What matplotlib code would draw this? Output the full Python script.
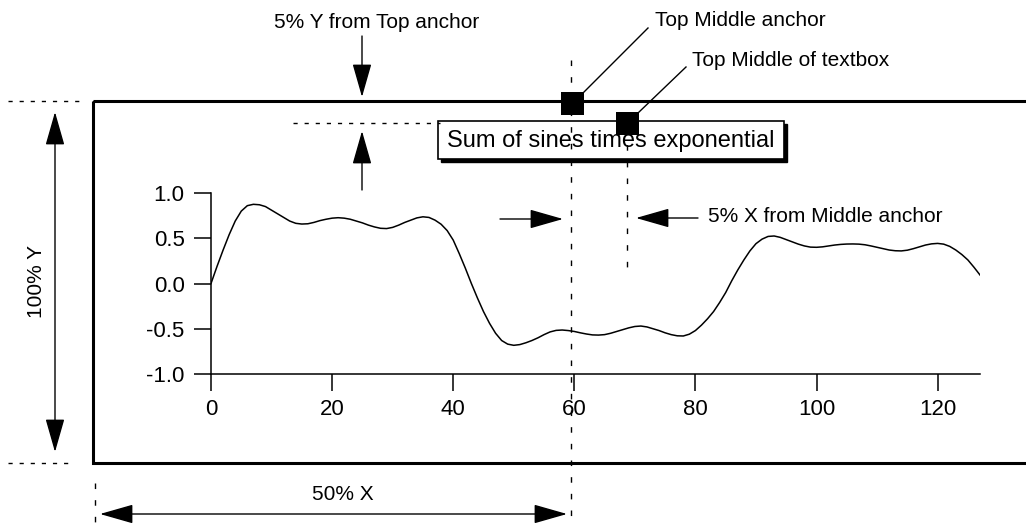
import matplotlib
matplotlib.use("Agg")
import matplotlib.pyplot as plt
from matplotlib.patches import Rectangle

plt.rcParams['font.family'] = ['Liberation Sans', 'DejaVu Sans']
plt.rcParams['axes.unicode_minus'] = False

# curve values, one per x step (0..127)
y_vals = [0.0, 0.19, 0.37, 0.54, 0.69, 0.80, 0.86, 0.875, 0.87, 0.85,
          0.81, 0.77, 0.73, 0.69, 0.665, 0.657, 0.66, 0.675, 0.695, 0.71,
          0.722, 0.727, 0.722, 0.71, 0.69, 0.67, 0.645, 0.625, 0.61, 0.607,
          0.62, 0.645, 0.675, 0.70, 0.725, 0.737, 0.73, 0.70, 0.655, 0.585,
          0.48, 0.33, 0.17, 0.0, -0.16, -0.31, -0.44, -0.55, -0.63, -0.67,
          -0.683, -0.675, -0.655, -0.63, -0.60, -0.565, -0.535, -0.518, -0.514, -0.52,
          -0.53, -0.545, -0.558, -0.568, -0.57, -0.565, -0.55, -0.53, -0.51, -0.49,
          -0.475, -0.47, -0.48, -0.50, -0.52, -0.545, -0.565, -0.578, -0.58, -0.56,
          -0.52, -0.46, -0.39, -0.31, -0.21, -0.10, 0.03, 0.15, 0.26, 0.36,
          0.44, 0.49, 0.52, 0.525, 0.51, 0.485, 0.46, 0.435, 0.415, 0.402,
          0.40, 0.405, 0.415, 0.425, 0.432, 0.436, 0.437, 0.435, 0.428, 0.415,
          0.40, 0.385, 0.37, 0.362, 0.36, 0.368, 0.385, 0.405, 0.425, 0.438,
          0.443, 0.435, 0.41, 0.37, 0.32, 0.26, 0.18, 0.094]
x_vals = list(range(len(y_vals)))
x_ticks = [0, 20, 40, 60, 80, 100, 120]
y_ticks = [-1.0, -0.5, 0.0, 0.5, 1.0]
title = "Sum of sines times exponential"

W, H = 1026, 527
fig = plt.figure(figsize=(W / 100, H / 100), dpi=100)

# data axes, placed in pixel positions
ax = fig.add_axes([211 / W, (H - 374) / H, (980 - 211) / W, (374 - 193) / H])
ax.patch.set_visible(False)
ax.plot(x_vals, y_vals, color='black', lw=1.1)
ax.set_xlim(0, 127)
ax.set_ylim(-1, 1)
ax.set_xticks(x_ticks)
ax.set_yticks(y_ticks)
ax.set_yticklabels([f"{v:.1f}" for v in y_ticks])
for s in ['top', 'right']:
    ax.spines[s].set_visible(False)
for s in ['left', 'bottom']:
    ax.spines[s].set_linewidth(1.1)
ax.tick_params(axis='both', direction='out', length=12, width=1.1, labelsize=16)
ax.tick_params(axis='y', pad=7)
ax.tick_params(axis='x', pad=6)

# overlay in pixel coordinates
ov = fig.add_axes([0, 0, 1, 1])
ov.set_xlim(0, W)
ov.set_ylim(H, 0)
ov.axis('off')
ov.patch.set_visible(False)

ov.add_patch(Rectangle((93, 101), 960, 362, fill=False, lw=2.2, ec='black'))

dash = dict(color='black', lw=1)
ov.plot([8, 80], [101, 101], ls=(0, (3, 5)), **dash)
ov.plot([8, 68], [463, 463], ls=(0, (3, 5)), **dash)
ov.plot([571, 571], [60, 522], ls=(0, (4, 8)), **dash)
ov.plot([627, 627], [128, 270], ls=(0, (4, 8)), **dash)
ov.plot([293, 440], [123, 123], ls=(0, (3, 5)), **dash)
ov.plot([95, 95], [483, 527], ls=(0, (4, 8)), **dash)


def arrow(x0, y0, x1, y1, style='-|>'):
    ov.annotate('', xy=(x1, y1), xytext=(x0, y0),
                arrowprops=dict(arrowstyle=style + ',head_length=2.1,head_width=0.6',
                                mutation_scale=10, color='black', lw=1,
                                shrinkA=0, shrinkB=0))


arrow(55, 112, 55, 452, '<|-|>')
arrow(100, 514, 567, 514, '<|-|>')
arrow(362, 36, 362, 97)
arrow(362, 190, 362, 131)
arrow(500, 219, 563, 219)
arrow(698, 218, 636, 218)

# textbox with shadow
ov.add_patch(Rectangle((441, 124), 346, 38, fc='black', ec='black', lw=1))
ov.add_patch(Rectangle((438, 121), 346, 38, fc='white', ec='black', lw=1.2))
ov.text(611, 141, title, fontsize=17, ha='center', va='center')

# anchor squares
ov.add_patch(Rectangle((560.5, 92), 23, 23, fc='black', ec='none', zorder=5))
ov.add_patch(Rectangle((616, 111.5), 23, 23, fc='black', ec='none', zorder=5))
ov.plot([583, 648], [93, 28], color='black', lw=1)
ov.plot([638, 686], [113, 67], color='black', lw=1)

fs = 15
ov.text(377, 23, "5% Y from Top anchor", fontsize=fs, ha='center', va='center')
ov.text(655, 20, "Top Middle anchor", fontsize=fs, ha='left', va='center')
ov.text(692, 60, "Top Middle of textbox", fontsize=fs, ha='left', va='center')
ov.text(708, 216, "5% X from Middle anchor", fontsize=fs, ha='left', va='center')
ov.text(37, 282, "100% Y", fontsize=fs, ha='center', va='center', rotation=90)
ov.text(343, 494, "50% X", fontsize=fs, ha='center', va='center')

fig.savefig("out.png", dpi=100)
